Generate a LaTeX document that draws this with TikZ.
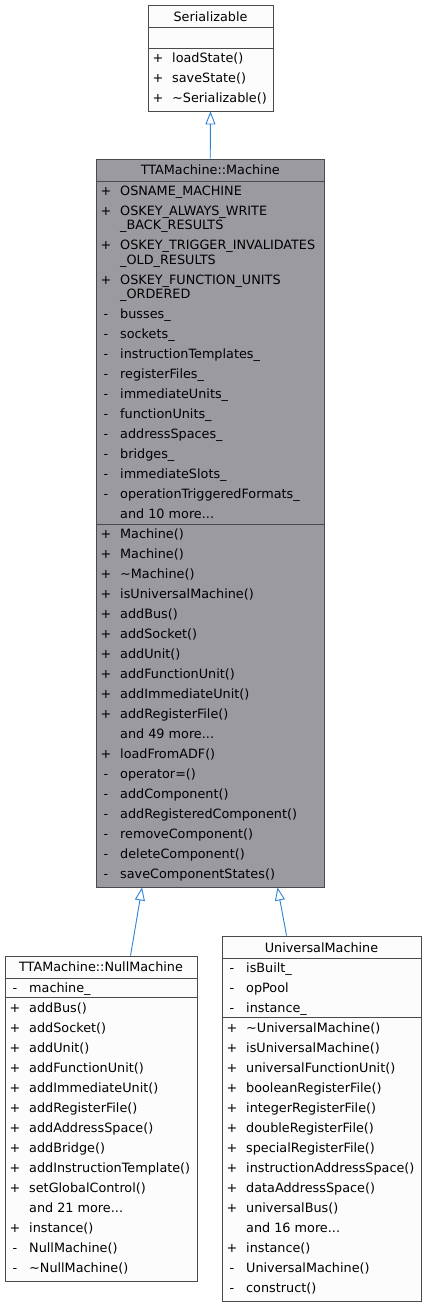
\documentclass[tikz,border=0pt]{standalone}
\usepackage{fontspec}
\setmainfont{DejaVu Sans}
\usetikzlibrary{arrows.meta}

\definecolor{boxline}{HTML}{4A4A4A}
\definecolor{boxfill}{HTML}{FBFCFB}
\definecolor{curfill}{HTML}{9B9AA0}
\definecolor{edgeblue}{HTML}{2B83D6}

\tikzset{
  cls/.style={draw=boxline, fill=boxfill, rectangle, inner sep=0pt, line width=0.9pt},
  cur/.style={cls, fill=curfill},
  sepline/.style={draw=boxline, line width=0.8pt},
  clsname/.style={inner sep=0pt, text height=9.3pt, text depth=0pt},
  vis/.style={inner sep=0pt, text height=9.3pt, text depth=0pt},
  memb/.style={anchor=west, inner sep=0pt, text height=9.3pt, text depth=0pt},
  inh/.style={edgeblue, line width=0.9pt, -{Triangle[open, length=13pt, width=10pt]}}
}

\newcommand{\more}[1]{and #1 more...}
% rows of one compartment: prefix, left edge, first y, list of marker/text
\newcommand{\umlrows}[4]{%
  \foreach \v/\t [count=\i from 0] in {#4}{
    \node[vis]  (#1v\i) at (#2+10, #3+20*\i) {\v};
    \node[memb] (#1t\i) at (#2+24, #3+20*\i) {\t};
  }}

\begin{document}
\begin{tikzpicture}[x=1pt, y=-1pt, font=\fontsize{12.8}{15}\selectfont]
    \useasboundingbox (0,0) rectangle (426,1307);

    % the class boxes
    \node[cls, minimum width=125pt, minimum height=106pt] (ser) at (210.5,58) {};
    \node[cur, minimum width=228.5pt, minimum height=728pt] (mach) at (210.25,523) {};
    \node[cls, minimum width=192pt, minimum height=325pt] (null) at (101,1118.5) {};
    \node[cls, minimum width=199pt, minimum height=365pt] (univ) at (321.5,1118.5) {};

    % compartments
    \draw[sepline] ([yshift=-23pt]ser.north west) -- ([yshift=-23pt]ser.north east);
    \draw[sepline] ([yshift=-44pt]ser.north west) -- ([yshift=-44pt]ser.north east);
    \draw[sepline] ([yshift=-22.5pt]mach.north west) -- ([yshift=-22.5pt]mach.north east);
    \draw[sepline] ([yshift=-365.5pt]mach.north west) -- ([yshift=-365.5pt]mach.north east);
    \draw[sepline] ([yshift=-22.5pt]null.north west) -- ([yshift=-22.5pt]null.north east);
    \draw[sepline] ([yshift=-42pt]null.north west) -- ([yshift=-42pt]null.north east);
    \draw[sepline] ([yshift=-22.5pt]univ.north west) -- ([yshift=-22.5pt]univ.north east);
    \draw[sepline] ([yshift=-82pt]univ.north west) -- ([yshift=-82pt]univ.north east);

    % Serializable
    \node[clsname] (sername) at (210.5,17) {Serializable};
    \umlrows{serm}{148}{58}{+/loadState(), +/saveState(), +/\textasciitilde Serializable()}

    % TTAMachine::Machine
    \node[clsname] (machname) at (210.25,170) {TTAMachine::Machine};
    \node[vis]  (macha1) at (106,190.5) {+};
    \node[memb] (machb1) at (120,190.5) {OSNAME\_MACHINE};
    \node[vis]  (macha2) at (106,210.5) {+};
    \node[memb] (machb2) at (120,210.5) {OSKEY\_ALWAYS\_WRITE};
    \node[memb] (machc2) at (120,225) {\_BACK\_RESULTS};
    \node[vis]  (macha3) at (106,245) {+};
    \node[memb] (machb3) at (120,245) {OSKEY\_TRIGGER\_INVALIDATES};
    \node[memb] (machc3) at (120,259.5) {\_OLD\_RESULTS};
    \node[vis]  (macha4) at (106,279.5) {+};
    \node[memb] (machb4) at (120,279.5) {OSKEY\_FUNCTION\_UNITS};
    \node[memb] (machc4) at (120,294) {\_ORDERED};
    \umlrows{macha}{96}{314}{-/busses\_, -/sockets\_, -/instructionTemplates\_,
      -/registerFiles\_, -/immediateUnits\_, -/functionUnits\_, -/addressSpaces\_,
      -/bridges\_, -/immediateSlots\_, -/operationTriggeredFormats\_, {}/\more{10}}
    \umlrows{machm}{96}{534}{+/Machine(), +/Machine(), +/\textasciitilde Machine(),
      +/isUniversalMachine(), +/addBus(), +/addSocket(), +/addUnit(),
      +/addFunctionUnit(), +/addImmediateUnit(), +/addRegisterFile(), {}/\more{49},
      +/loadFromADF(), -/operator=(), -/addComponent(), -/addRegisteredComponent(),
      -/removeComponent(), -/deleteComponent(), -/saveComponentStates()}

    % TTAMachine::NullMachine
    \node[clsname] (nullname) at (101,967) {TTAMachine::NullMachine};
    \umlrows{nulla}{5}{988}{-/machine\_}
    \umlrows{nullm}{5}{1008}{+/addBus(), +/addSocket(), +/addUnit(), +/addFunctionUnit(),
      +/addImmediateUnit(), +/addRegisterFile(), +/addAddressSpace(), +/addBridge(),
      +/addInstructionTemplate(), +/setGlobalControl(), {}/\more{21}, +/instance(),
      -/NullMachine(), -/\textasciitilde NullMachine()}

    % UniversalMachine
    \node[clsname] (univname) at (321.5,947.5) {UniversalMachine};
    \umlrows{univa}{222}{968}{-/isBuilt\_, -/opPool, -/instance\_}
    \umlrows{univm}{222}{1028}{+/\textasciitilde UniversalMachine(), +/isUniversalMachine(),
      +/universalFunctionUnit(), +/booleanRegisterFile(), +/integerRegisterFile(),
      +/doubleRegisterFile(), +/specialRegisterFile(), +/instructionAddressSpace(),
      +/dataAddressSpace(), +/universalBus(), {}/\more{16}, +/instance(),
      -/UniversalMachine(), -/construct()}

    % inheritance
    \draw[inh] (mach.north) -- (ser.south);
    \draw[inh] ([xshift=126pt]null.north west) -- ([xshift=46.5pt]mach.south west);
    \draw[inh] ([xshift=65pt]univ.north west) -- ([xshift=182pt]mach.south west);
\end{tikzpicture}
\end{document}
